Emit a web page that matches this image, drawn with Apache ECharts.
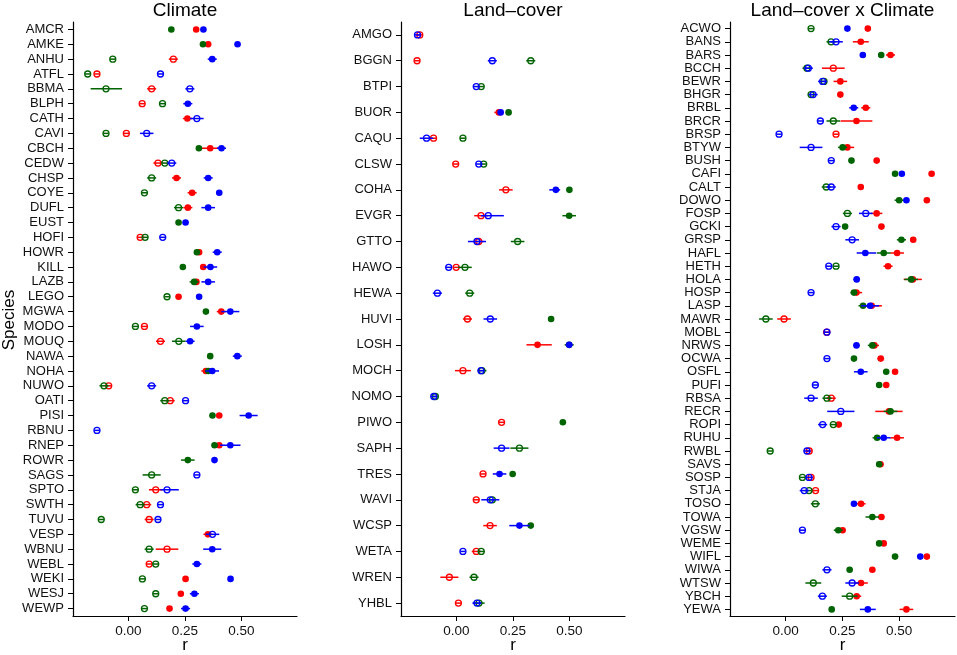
<!DOCTYPE html>
<html>
<head>
<meta charset="utf-8">
<title>Species correlations</title>
<script src="https://cdn.jsdelivr.net/npm/echarts@6/dist/echarts.min.js"></script>
<style>
  html, body { margin: 0; padding: 0; background: #fff; }
  #main { width: 957px; height: 655px; }
</style>
</head>
<body>
<div id="main"></div>
<script>
// rows: [r, ciLow, ciHigh, significant(1 = filled)]; null = no estimate
var climateSpecies = ['AMCR','AMKE','ANHU','ATFL','BBMA','BLPH','CATH','CAVI','CBCH','CEDW','CHSP','COYE','DUFL','EUST','HOFI','HOWR','KILL','LAZB','LEGO','MGWA','MODO','MOUQ','NAWA','NOHA','NUWO','OATI','PISI','RBNU','RNEP','ROWR','SAGS','SPTO','SWTH','TUVU','VESP','WBNU','WEBL','WEKI','WESJ','WEWP'];
var climateGreen = [
  [0.19,0.178,0.202,1],[0.33,0.318,0.342,1],[-0.069,-0.081,-0.057,0],[-0.18,-0.192,-0.168,0],
  [-0.099,-0.167,-0.028,0],[0.151,0.139,0.163,0],null,[-0.099,-0.111,-0.087,0],
  [0.312,0.3,0.324,1],[0.161,0.149,0.173,0],[0.103,0.083,0.123,0],[0.071,0.059,0.083,0],
  [0.222,0.202,0.242,0],[0.222,0.21,0.234,1],[0.074,0.062,0.086,0],[0.303,0.291,0.315,1],
  [0.241,0.229,0.253,1],[0.291,0.271,0.311,1],[0.171,0.159,0.183,0],[0.343,0.331,0.355,1],
  [0.031,0.019,0.043,0],[0.223,0.193,0.253,0],[0.362,0.35,0.374,1],[0.354,0.342,0.366,1],
  [-0.108,-0.128,-0.088,0],[0.161,0.141,0.181,0],[0.372,0.36,0.384,1],null,
  [0.381,0.369,0.393,1],[0.263,0.233,0.293,1],[0.103,0.063,0.143,0],[0.031,0.019,0.043,0],
  [0.052,0.032,0.072,0],[-0.12,-0.132,-0.108,0],null,[0.092,0.072,0.112,0],
  [0.121,0.109,0.133,0],[0.062,0.05,0.074,0],[0.121,0.109,0.133,0],[0.071,0.059,0.083,0]
];
var climateRed = [
  [0.30,0.288,0.312,1],[0.353,0.341,0.365,1],[0.199,0.179,0.219,0],[-0.139,-0.151,-0.127,0],
  [0.103,0.083,0.123,0],[0.061,0.049,0.073,0],[0.261,0.241,0.281,1],[-0.009,-0.021,0.003,0],
  [0.362,0.312,0.412,1],[0.131,0.111,0.151,0],[0.213,0.193,0.233,1],[0.282,0.262,0.302,1],
  [0.263,0.243,0.283,1],null,[0.052,0.04,0.064,0],[0.313,0.301,0.325,1],
  [0.331,0.319,0.343,1],[0.301,0.289,0.313,1],[0.222,0.21,0.234,1],[0.411,0.391,0.431,1],
  [0.071,0.059,0.083,0],[0.142,0.122,0.162,0],null,[0.343,0.323,0.363,1],
  [-0.087,-0.099,-0.075,0],[0.185,0.165,0.205,0],[0.402,0.39,0.414,1],null,
  [0.402,0.39,0.414,1],null,null,[0.121,0.091,0.151,0],
  [0.081,0.061,0.101,0],[0.092,0.072,0.112,0],[0.352,0.332,0.372,1],[0.171,0.121,0.221,0],
  [0.092,0.08,0.104,0],[0.253,0.241,0.265,1],[0.232,0.22,0.244,1],[0.182,0.17,0.194,1]
];
var climateBlue = [
  [0.332,0.32,0.344,1],[0.483,0.471,0.495,1],[0.371,0.351,0.391,1],[0.142,0.13,0.154,0],
  [0.272,0.252,0.292,0],[0.263,0.243,0.283,1],[0.303,0.273,0.333,0],[0.081,0.051,0.111,0],
  [0.412,0.392,0.432,1],[0.192,0.172,0.212,0],[0.353,0.333,0.373,1],[0.402,0.39,0.414,1],
  [0.353,0.323,0.383,1],[0.253,0.241,0.265,1],[0.152,0.14,0.164,0],[0.393,0.373,0.413,1],
  [0.363,0.333,0.393,1],[0.353,0.323,0.383,1],[0.313,0.301,0.325,1],[0.451,0.411,0.491,1],
  [0.303,0.273,0.333,1],[0.273,0.253,0.293,1],[0.482,0.462,0.502,1],[0.371,0.341,0.401,1],
  [0.103,0.083,0.123,0],[0.253,0.241,0.265,0],[0.532,0.492,0.572,1],[-0.139,-0.151,-0.127,0],
  [0.451,0.406,0.496,1],[0.381,0.369,0.393,1],[0.303,0.291,0.315,0],[0.171,0.142,0.223,0],
  [0.142,0.13,0.154,0],[0.131,0.119,0.143,0],[0.372,0.342,0.402,0],[0.371,0.331,0.411,1],
  [0.303,0.283,0.323,1],[0.452,0.44,0.464,1],[0.292,0.272,0.312,1],[0.253,0.233,0.273,1]
];

var landSpecies = ['AMGO','BGGN','BTPI','BUOR','CAQU','CLSW','COHA','EVGR','GTTO','HAWO','HEWA','HUVI','LOSH','MOCH','NOMO','PIWO','SAPH','TRES','WAVI','WCSP','WETA','WREN','YHBL'];
var landGreen = [
  null,[0.329,0.309,0.349,0],[0.11,0.098,0.122,0],[0.231,0.219,0.243,1],
  [0.029,0.017,0.041,0],[0.121,0.109,0.133,0],[0.50,0.488,0.512,1],[0.499,0.469,0.529,1],
  [0.271,0.241,0.301,0],[0.038,0.008,0.068,0],[0.059,0.039,0.079,0],[0.419,0.407,0.431,1],
  [0.499,0.479,0.519,1],[0.113,0.093,0.133,0],[-0.093,-0.105,-0.081,0],[0.471,0.459,0.483,1],
  [0.279,0.239,0.319,0],[0.249,0.237,0.261,1],[0.159,0.147,0.171,0],[0.329,0.317,0.341,1],
  [0.11,0.095,0.125,0],[0.078,0.058,0.098,0],[0.10,0.075,0.125,0]
];
var landRed = [
  [-0.162,-0.174,-0.15,0],[-0.174,-0.186,-0.162,0],null,[0.188,0.168,0.208,1],
  [-0.101,-0.113,-0.089,0],[-0.003,-0.015,0.009,0],[0.219,0.189,0.249,0],[0.109,0.079,0.139,0],
  [0.099,0.079,0.119,0],[-0.001,-0.013,0.011,0],null,[0.049,0.029,0.069,0],
  [0.359,0.31,0.422,1],[0.029,-0.006,0.064,0],null,[0.2,0.188,0.212,0],
  null,[0.118,0.106,0.13,0],[0.088,0.076,0.1,0],[0.149,0.119,0.179,0],
  [0.088,0.068,0.108,0],[-0.031,-0.071,0.009,0],[0.009,-0.003,0.021,0]
];
var landBlue = [
  [-0.172,-0.187,-0.157,0],[0.159,0.139,0.179,0],[0.088,0.076,0.1,0],[0.196,0.184,0.208,1],
  [-0.132,-0.162,-0.102,0],[0.099,0.087,0.111,0],[0.44,0.411,0.459,1],[0.141,0.109,0.21,0],
  [0.091,0.051,0.131,0],[-0.034,-0.046,-0.022,0],[-0.084,-0.104,-0.064,0],[0.15,0.12,0.18,0],
  [0.499,0.484,0.514,1],[0.109,0.097,0.121,0],[-0.1,-0.112,-0.088,0],null,
  [0.20,0.165,0.235,0],[0.191,0.161,0.221,1],[0.15,0.11,0.19,0],[0.279,0.234,0.324,1],
  [0.029,0.017,0.041,0],null,[0.091,0.071,0.111,0]
];

var bothSpecies = ['ACWO','BANS','BARS','BCCH','BEWR','BHGR','BRBL','BRCR','BRSP','BTYW','BUSH','CAFI','CALT','DOWO','FOSP','GCKI','GRSP','HAFL','HETH','HOLA','HOSP','LASP','MAWR','MOBL','NRWS','OCWA','OSFL','PUFI','RBSA','RECR','ROPI','RUHU','RWBL','SAVS','SOSP','STJA','TOSO','TOWA','VGSW','WEME','WIFL','WIWA','WTSW','YBCH','YEWA'];
var bothGreen = [
  [0.112,0.1,0.124,0],[0.2,0.18,0.22,0],[0.421,0.409,0.433,1],[0.094,0.074,0.114,0],
  [0.169,0.157,0.181,0],[0.112,0.1,0.124,0],null,[0.21,0.18,0.24,0],
  null,[0.251,0.231,0.271,1],[0.29,0.278,0.302,1],[0.482,0.47,0.494,1],
  [0.179,0.159,0.199,0],[0.5,0.48,0.52,1],[0.272,0.252,0.292,0],[0.262,0.25,0.274,1],
  [0.51,0.49,0.53,1],[0.432,0.402,0.462,1],[0.222,0.21,0.234,0],[0.553,0.523,0.583,1],
  [0.301,0.286,0.316,1],[0.341,0.321,0.361,1],[-0.087,-0.117,-0.057,0],null,
  [0.382,0.362,0.402,1],[0.301,0.289,0.313,1],[0.443,0.431,0.455,1],[0.412,0.4,0.424,1],
  [0.182,0.162,0.202,0],[0.462,0.432,0.492,1],[0.21,0.195,0.225,0],[0.403,0.383,0.423,1],
  [-0.068,-0.08,-0.056,0],[0.412,0.4,0.424,1],[0.074,0.062,0.086,0],[0.103,0.091,0.115,0],
  [0.131,0.111,0.151,0],[0.382,0.352,0.412,1],[0.232,0.212,0.252,1],[0.412,0.4,0.424,1],
  [0.482,0.47,0.494,1],[0.282,0.27,0.294,1],[0.122,0.087,0.157,0],[0.282,0.247,0.317,0],
  [0.203,0.191,0.215,1]
];
var bothRed = [
  [0.362,0.35,0.374,1],[0.331,0.296,0.366,1],[0.462,0.442,0.482,1],[0.21,0.16,0.26,0],
  [0.241,0.211,0.271,1],[0.241,0.229,0.253,1],[0.353,0.333,0.373,1],[0.312,0.242,0.382,1],
  [0.222,0.21,0.234,0],[0.272,0.242,0.302,1],[0.401,0.389,0.413,1],[0.643,0.631,0.655,1],
  [0.331,0.319,0.343,1],[0.622,0.61,0.634,1],[0.401,0.376,0.426,1],[0.422,0.41,0.434,1],
  [0.562,0.55,0.574,1],[0.491,0.461,0.521,1],[0.451,0.431,0.471,1],[0.56,0.52,0.6,1],
  [0.312,0.287,0.337,1],[0.379,0.334,0.424,1],[-0.007,-0.037,0.023,0],[0.181,0.166,0.196,0],
  [0.391,0.371,0.411,1],[0.419,0.404,0.434,1],[0.482,0.47,0.494,1],[0.443,0.431,0.455,1],
  [0.201,0.181,0.221,0],[0.455,0.395,0.515,1],[0.234,0.222,0.246,1],[0.491,0.461,0.521,1],
  [0.104,0.092,0.116,0],[0.418,0.406,0.43,1],[0.112,0.1,0.124,0],[0.132,0.12,0.144,0],
  [0.332,0.312,0.352,1],[0.422,0.41,0.434,1],[0.251,0.239,0.263,1],[0.432,0.42,0.444,1],
  [0.622,0.61,0.634,1],[0.382,0.37,0.394,1],[0.332,0.302,0.362,1],[0.313,0.293,0.333,1],
  [0.532,0.502,0.562,1]
];
var bothBlue = [
  [0.272,0.26,0.284,1],[0.222,0.192,0.252,0],[0.34,0.328,0.352,1],[0.1,0.08,0.12,0],
  [0.163,0.143,0.183,0],[0.121,0.101,0.141,0],[0.3,0.28,0.32,1],[0.153,0.141,0.165,0],
  [-0.029,-0.041,-0.017,0],[0.112,0.062,0.162,0],[0.201,0.189,0.213,0],[0.512,0.5,0.524,1],
  [0.201,0.181,0.221,0],[0.532,0.52,0.544,1],[0.353,0.323,0.383,0],[0.222,0.202,0.242,0],
  [0.293,0.263,0.323,0],[0.351,0.313,0.399,1],[0.19,0.178,0.202,0],[0.313,0.298,0.328,1],
  [0.112,0.1,0.124,0],[0.372,0.332,0.412,1],null,[0.182,0.17,0.194,0],
  [0.312,0.297,0.327,1],[0.182,0.17,0.194,0],[0.331,0.301,0.361,1],[0.131,0.119,0.143,0],
  [0.112,0.082,0.142,0],[0.243,0.183,0.303,0],[0.163,0.143,0.183,0],[0.432,0.402,0.462,1],
  [0.094,0.079,0.109,0],null,[0.103,0.088,0.118,0],[0.082,0.062,0.102,0],
  [0.301,0.289,0.313,1],null,[0.074,0.059,0.089,0],null,
  [0.593,0.581,0.605,1],[0.182,0.162,0.202,0],[0.293,0.263,0.323,0],[0.162,0.142,0.182,0],
  [0.362,0.327,0.397,1]
];

var xTicks = [0, 0.25, 0.5];
var GREEN = '#006400', RED = '#ff0000', BLUE = '#0000ff';
var FONT = '"Liberation Sans", Arial, Helvetica, sans-serif';

var panels = [
  { title: 'Climate', species: climateSpecies, red: climateRed, green: climateGreen, blue: climateBlue, left: 73, width: 224 },
  { title: 'Land\u2013cover', species: landSpecies, red: landRed, green: landGreen, blue: landBlue, left: 401, width: 224 },
  { title: 'Land\u2013cover x Climate', species: bothSpecies, red: bothRed, green: bothGreen, blue: bothBlue, left: 730, width: 225 }
];

function toRows(rows) {
  var out = [];
  rows.forEach(function (d, i) {
    if (d) out.push([d[0], i, d[1], d[2], d[3]]);
  });
  return out;
}

function drawPoint(color) {
  return function (params, api) {
    var yi = api.value(1);
    var p = api.coord([api.value(0), yi]);
    var lo = api.coord([api.value(2), yi]);
    var hi = api.coord([api.value(3), yi]);
    var filled = api.value(4) === 1;
    return {
      type: 'group',
      children: [
        { type: 'line', shape: { x1: lo[0], y1: p[1], x2: hi[0], y2: p[1] },
          style: { stroke: color, lineWidth: 1.5 } },
        { type: 'circle', shape: { cx: p[0], cy: p[1], r: filled ? 3.3 : 3 },
          style: filled ? { fill: color } : { fill: 'none', stroke: color, lineWidth: 1.3 } }
      ]
    };
  };
}

var grid = [], xAxis = [], yAxis = [], series = [], graphic = [];
panels.forEach(function (pn, k) {
  grid.push({ left: pn.left, width: pn.width, top: 22, bottom: 39 });
  xAxis.push({
    type: 'value', gridIndex: k, min: -0.245, max: 0.746,
    axisLine: { show: true, onZero: false, lineStyle: { color: '#000', width: 1.2 } },
    axisTick: { show: true, length: 5, lineStyle: { color: '#000' }, customValues: xTicks },
    axisLabel: { color: '#111', fontSize: 13.5, fontFamily: FONT, margin: 8,
      customValues: xTicks, formatter: function (v) { return v.toFixed(2); } },
    splitLine: { show: false }
  });
  yAxis.push({
    type: 'category', gridIndex: k, data: pn.species, inverse: true,
    axisLine: { show: true, onZero: false, lineStyle: { color: '#000', width: 1.2 } },
    axisTick: { show: true, length: 5, alignWithLabel: true, interval: 0, lineStyle: { color: '#000' } },
    axisLabel: { color: '#111', fontSize: 13, fontFamily: FONT, margin: 9, interval: 0 },
    splitLine: { show: false }
  });
  [['red', RED], ['green', GREEN], ['blue', BLUE]].forEach(function (c, j) {
    series.push({
      type: 'custom', xAxisIndex: k, yAxisIndex: k, z: 2 + j,
      encode: { x: 0, y: 1 },
      renderItem: drawPoint(c[1]),
      data: toRows(pn[c[0]])
    });
  });
  var cx = pn.left + pn.width / 2;
  graphic.push({ type: 'text', x: cx, y: 11,
    style: { text: pn.title, font: '19px ' + FONT, fill: '#000', textAlign: 'center', textVerticalAlign: 'middle' } });
  graphic.push({ type: 'text', x: cx, y: 645,
    style: { text: 'r', font: '17px ' + FONT, fill: '#000', textAlign: 'center', textVerticalAlign: 'middle' } });
});
graphic.push({ type: 'text', x: 9, y: 320, rotation: Math.PI / 2,
  style: { text: 'Species', font: '17px ' + FONT, fill: '#000', textAlign: 'center', textVerticalAlign: 'middle' } });

var myChart = echarts.init(document.getElementById('main'));
myChart.setOption({
  animation: false,
  backgroundColor: '#fff',
  grid: grid,
  xAxis: xAxis,
  yAxis: yAxis,
  series: series,
  graphic: graphic
});
</script>
</body>
</html>
